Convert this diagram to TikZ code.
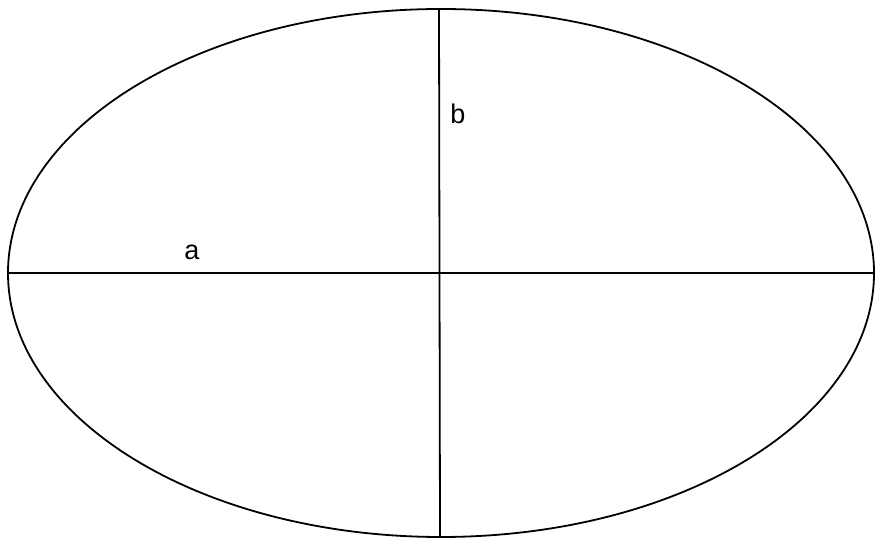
\documentclass[tikz,border=0pt]{standalone}
\usepackage{fontspec}
\setmainfont{Liberation Sans}
\begin{document}
\begin{tikzpicture}[x=1pt,y=1pt,
  outline/.style={line width=1.8pt,black},
  axis/.style={line width=1.8pt,black},
  lbl/.style={font=\fontsize{27}{30}\selectfont,inner sep=0pt}]
\useasboundingbox (0,0) rectangle (880,540);
\coordinate (c) at (441,267);
\draw[outline] (c) ellipse [x radius=433, y radius=264];
\coordinate (L) at (8,267);
\coordinate (R) at (874,267);
\coordinate (T) at (439,531);
\coordinate (B) at (440,3);
\draw[axis] (L) -- (R);
\draw[axis] (T) -- (B);
\node[lbl] (a) at (192,288) {a};
\node[lbl] (b) at (458,426) {b};
\end{tikzpicture}
\end{document}
